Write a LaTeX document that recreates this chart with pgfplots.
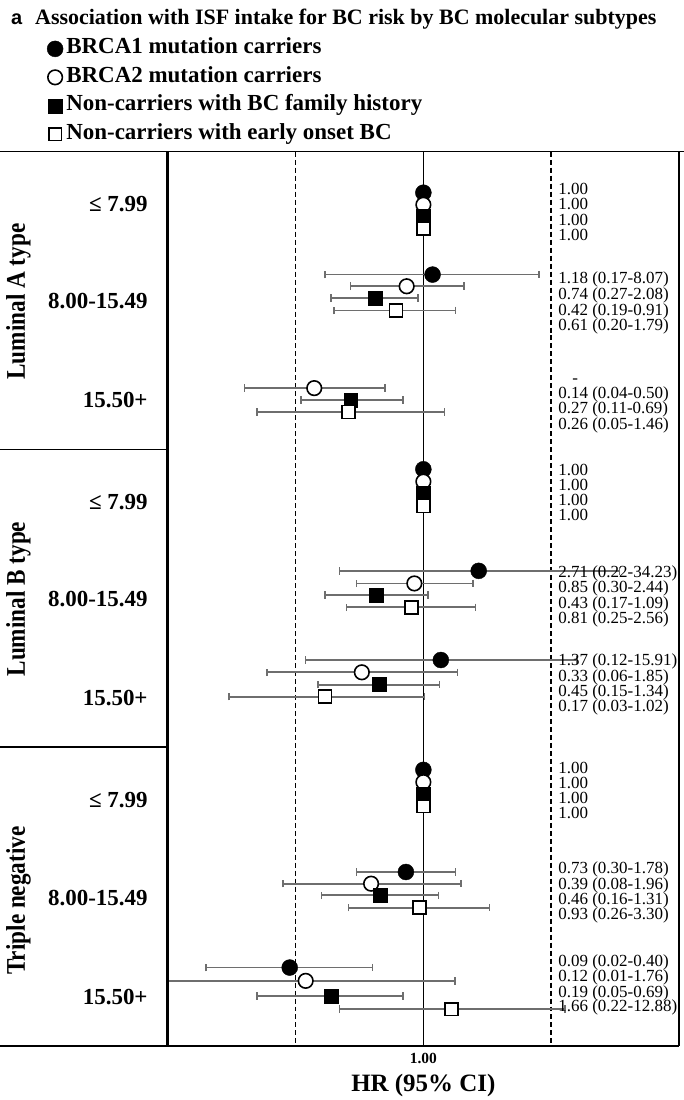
\documentclass[border=0pt]{standalone}
\usepackage{fontspec}
\setmainfont{Liberation Serif}
\newfontfamily\sansfont{Liberation Sans}
\usepackage{graphicx}
\usepackage{pgfplots}
\pgfplotsset{compat=1.18}
\usepackage{pgfplotstable}

\definecolor{barc}{HTML}{6E6E6E}
\newcommand\fs[1]{\fontsize{#1bp}{#1bp}\selectfont}

% y = minus the row position (px from top), hr, lower and upper CI
\pgfplotstableread{
y      hr   lo   hi
-193   1    1    1
-275   1.18 0.17 8.07
-470   1    1    1
-571.7 2.71 0.22 34.23
-661   1.37 0.12 15.91
-771   1    1    1
-873.3 0.73 0.30 1.78
-969   0.09 0.02 0.40
}\brcaA
\pgfplotstableread{
y      hr   lo   hi
-205   1    1    1
-286.7 0.74 0.27 2.08
-388.7 0.14 0.04 0.50
-482.3 1    1    1
-584.3 0.85 0.30 2.44
-673.3 0.33 0.06 1.85
-783.3 1    1    1
-885   0.39 0.08 1.96
-982.3 0.12 0.01 1.76
}\brcaB
\pgfplotstableread{
y      hr   lo   hi
-217   1    1    1
-298.7 0.42 0.19 0.91
-400.7 0.27 0.11 0.69
-494   1    1    1
-596   0.43 0.17 1.09
-685.7 0.45 0.15 1.34
-795   1    1    1
-896.7 0.46 0.16 1.31
-997.3 0.19 0.05 0.69
}\famhist
\pgfplotstableread{
y       hr   lo   hi
-229    1    1    1
-311    0.61 0.20 1.79
-412.7  0.26 0.05 1.46
-506.7  1    1    1
-608.3  0.81 0.25 2.56
-697.7  0.17 0.03 1.02
-807.3  1    1    1
-909    0.93 0.26 3.30
-1010.7 1.66 0.22 12.88
}\early

\pgfplotsset{
  cibars/.style={only marks, mark=none, forget plot,
    error bars/.cd, x dir=both, x explicit, error mark=|,
    error bar style={draw=barc, line width=1.8bp, solid},
    error mark options={draw=barc, line width=1.6bp, mark size=3.8bp}},
}
\newcommand\hrtxt[3]{\node[anchor=base west, inner sep=0pt] at (#1,#2) {#3};}

\begin{document}
\begin{tikzpicture}
\begin{axis}[
  at={(168bp,-1047bp)}, anchor=south west,
  scale only axis, width=512bp, height=895bp,
  xmode=log, xmin=0.01, xmax=100,
  ymin=-1047, ymax=-152,
  xtick={1}, xticklabels={1.00},
  xminorticks=false, yminorticks=false,
  ytick={-204.5,-301.5,-400.5,-503,-600,-699,-801.5,-899,-998.5},
  yticklabels={≤ 7.99,8.00-15.49,15.50+,≤ 7.99,8.00-15.49,15.50+,≤ 7.99,8.00-15.49,15.50+},
  tick style={draw=none},
  axis line style={line width=1.3bp},
  xticklabel style={font=\fs{15.5}\bfseries, anchor=base, yshift=-18bp},
  yticklabel style={font=\fs{23}\bfseries, anchor=east, inner sep=0pt, xshift=-20bp},
  xlabel={HR (95\% CI)},
  xlabel style={at={(axis description cs:0.5,0)}, anchor=base, yshift=-46bp, font=\fs{25}\bfseries},
  legend style={at={(axis description cs:-0.2363,1.1263)}, anchor=north west,
    draw=none, fill=none, inner sep=0pt, outer sep=0pt, row sep=8.5bp, column sep=3bp,
    font=\fs{23}\bfseries, nodes={inner sep=0pt, text height=15bp, text depth=5bp}},
  legend cell align=left,
  legend image code/.code={\path (-8bp,0bp) (8bp,0bp); \draw[#1] plot coordinates {(0bp,0bp)};},
]
% reference lines
\addplot[black, line width=1.4bp, forget plot] coordinates {(1,-152) (1,-1047)};
\addplot[black, line width=1.6bp, dash pattern=on 5bp off 3bp, forget plot] coordinates {(0.1,-152) (0.1,-1047)};
\addplot[black, line width=1.6bp, dash pattern=on 5bp off 3bp, forget plot] coordinates {(10,-152) (10,-1047)};
% confidence intervals
\addplot[cibars] table[x=hr, y=y, x error plus expr=\thisrow{hi}-\thisrow{hr}, x error minus expr=\thisrow{hr}-\thisrow{lo}] {\brcaA};
\addplot[cibars] table[x=hr, y=y, x error plus expr=\thisrow{hi}-\thisrow{hr}, x error minus expr=\thisrow{hr}-\thisrow{lo}] {\brcaB};
\addplot[cibars] table[x=hr, y=y, x error plus expr=\thisrow{hi}-\thisrow{hr}, x error minus expr=\thisrow{hr}-\thisrow{lo}] {\famhist};
\addplot[cibars] table[x=hr, y=y, x error plus expr=\thisrow{hi}-\thisrow{hr}, x error minus expr=\thisrow{hr}-\thisrow{lo}] {\early};
% point estimates
\addplot[only marks, mark=*, mark size=8bp, mark options={fill=black, draw=black}] table[x=hr, y=y] {\brcaA};
\addlegendentry{BRCA1 mutation carriers}
\addplot[only marks, mark=*, mark size=7.3bp, mark options={fill=white, draw=black, line width=1.6bp}] table[x=hr, y=y] {\brcaB};
\addlegendentry{BRCA2 mutation carriers}
\addplot[only marks, mark=square*, mark size=7bp, mark options={fill=black, draw=black}] table[x=hr, y=y] {\famhist};
\addlegendentry{Non-carriers with BC family history}
\addplot[only marks, mark=square*, mark size=6.4bp, mark options={fill=white, draw=black, line width=1.6bp}] table[x=hr, y=y] {\early};
\addlegendentry{Non-carriers with early onset BC}
\end{axis}

\begin{scope}[x=1bp, y=-1bp]
\path[use as bounding box] (0,0) rectangle (685,1100);
% title
\node[anchor=base west, inner sep=0pt] at (11,25) {\sansfont\fs{20}\bfseries a};
\node[anchor=base west, inner sep=0pt] at (35,25) {\fs{22}\bfseries Association with ISF intake for BC risk by BC molecular subtypes};
% left panel frame
\draw[line width=1.3bp] (0,152) -- (685,152);
\draw[line width=1.3bp] (0,450.5) -- (168,450.5);
\draw[line width=1.3bp] (0,748) -- (168,748);
\draw[line width=1.3bp] (0,1047.5) -- (680,1047.5);
\draw[line width=3bp] (168,152) -- (168,1047);
% subtype labels
\node[rotate=90, anchor=base, inner sep=0pt] at (25,302) {\scalebox{0.86}[1]{\fs{27}\bfseries Luminal A type}};
\node[rotate=90, anchor=base, inner sep=0pt] at (25,600) {\scalebox{0.86}[1]{\fs{27}\bfseries Luminal B type}};
\node[rotate=90, anchor=base, inner sep=0pt] at (25,902) {\scalebox{0.86}[1]{\fs{27}\bfseries Triple negative}};
% HR (95% CI) column
\begingroup\fs{17}
\hrtxt{559}{194.5}{1.00}
\hrtxt{559}{209.5}{1.00}
\hrtxt{559}{225.5}{1.00}
\hrtxt{559}{240.5}{1.00}
\hrtxt{559}{283.5}{1.18 (0.17-8.07)}
\hrtxt{559}{299.5}{0.74 (0.27-2.08)}
\hrtxt{559}{315.5}{0.42 (0.19-0.91)}
\hrtxt{559}{330.5}{0.61 (0.20-1.79)}
\hrtxt{573}{384}{-}
\hrtxt{559}{399.5}{0.14 (0.04-0.50)}
\hrtxt{559}{414.5}{0.27 (0.11-0.69)}
\hrtxt{559}{430.5}{0.26 (0.05-1.46)}
\hrtxt{559}{476.5}{1.00}
\hrtxt{559}{491.5}{1.00}
\hrtxt{559}{506.5}{1.00}
\hrtxt{559}{521.5}{1.00}
\hrtxt{559}{578.5}{2.71 (0.22-34.23)}
\hrtxt{559}{593.5}{0.85 (0.30-2.44)}
\hrtxt{559}{609.5}{0.43 (0.17-1.09)}
\hrtxt{559}{624.5}{0.81 (0.25-2.56)}
\hrtxt{559}{666.5}{1.37 (0.12-15.91)}
\hrtxt{559}{682.5}{0.33 (0.06-1.85)}
\hrtxt{559}{697.5}{0.45 (0.15-1.34)}
\hrtxt{559}{712.5}{0.17 (0.03-1.02)}
\hrtxt{559}{774.5}{1.00}
\hrtxt{559}{789.5}{1.00}
\hrtxt{559}{804.5}{1.00}
\hrtxt{559}{819.5}{1.00}
\hrtxt{559}{874.5}{0.73 (0.30-1.78)}
\hrtxt{559}{890.5}{0.39 (0.08-1.96)}
\hrtxt{559}{905.5}{0.46 (0.16-1.31)}
\hrtxt{559}{920.5}{0.93 (0.26-3.30)}
\hrtxt{559}{967.5}{0.09 (0.02-0.40)}
\hrtxt{559}{982.5}{0.12 (0.01-1.76)}
\hrtxt{559}{998.5}{0.19 (0.05-0.69)}
\hrtxt{559}{1013.5}{1.66 (0.22-12.88)}
\endgroup
\end{scope}
\end{tikzpicture}
\end{document}
